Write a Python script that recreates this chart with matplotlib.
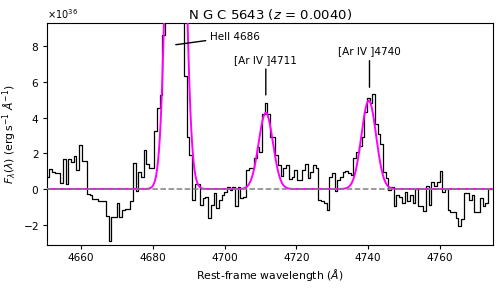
import numpy as np
import matplotlib
matplotlib.use("Agg")
import matplotlib.pyplot as plt

# rest-frame spectrum around HeII 4686, units of 1e36 erg/s/A
flux = [
    0.69, 1.1, 0.96, 0.87, 0.87, 0.31, 1.67, 0.26, 1.67, 1.54,
    1.83, 1.06, 2.46, 1.57, 1.57, -0.3, -0.35, -0.55, -0.55, -0.65,
    -0.7, -0.7, -1.5, -2.9, -1.6, -1.55, -0.8, -1.6, -1.2, -1.15,
    -1.15, -0.7, 1.48, -0.1, 0.96, 0.69, 2.17, 1.43, 1.15, 1.15,
    3.28, 4.57, 5.3, 8.65, 16, 27, 35, 39, 36, 26,
    12, 6.33, 2.9, 1.9, -0.6, 0.28, 0.28, -0.9, -0.52, -0.43,
    -1.63, -0.9, -0.24, -1.07, -0.6, -0.33, -0.15, 0.13, -0.05, 0.13,
    -0.98, 0.13, -0.52, -0.43, 1.09, 1.15, 1.15, 1.76, 2.35, 2.07,
    4.2, 4.85, 4.2, 2.94, 2.9, 1.9, 1.33, 0.74, 1.15, 1.33,
    0.56, 0.69, 1.09, 0.5, 0.5, 1.09, 1.43, 0.59, 0.96, 1.33,
    1.2, -0.61, -0.7, -0.8, -1.17, 0.69, 0.87, -0.1, 0.5, 0.69,
    0.96, 1.02, 0.9, 0.78, 1.76, 2.07, 2.44, 2.9, 4.3, 5.13,
    4.8, 5.35, 3.65, 3.09, 2.5, 0.96, 0.59, -0.05, 0.13, -0.94,
    -0.33, -0.43, -0.8, -0.15, -0.7, -0.33, -0.8, 0.0, -0.98, -0.94,
    -1.26, 0.17, -0.89, 0.37, 0.17, 0.4, 1.02, -0.15, 0.0, -1.17,
    -1.31, -1.31, -1.63, -2.09, -1.69, -0.24, -0.2, -0.61, -0.33, -1.31,
    -1.31, -0.52, -0.94, -0.8, 0.0, 0.0,
]
wave_start = 4650.8
wave_step = 0.75

# gaussian fit components: HeII 4686, [ArIV] 4711, [ArIV] 4740
fit_centers = [4686.4, 4711.5, 4740.2]
fit_amps = [39.0, 4.27, 4.96]
fit_sigmas = [1.95, 2.0, 2.05]

line_labels = ["HeII 4686", "[Ar IV ]4711", "[Ar IV ]4740"]

scale = 1e36
wave = wave_start + wave_step * np.arange(len(flux))
flux = np.array(flux) * scale

wfit = np.linspace(4650.5, 4774.8, 1500)
model = np.zeros_like(wfit)
for c, a, s in zip(fit_centers, fit_amps, fit_sigmas):
    model += a * np.exp(-0.5 * ((wfit - c) / s) ** 2)
model *= scale

fig = plt.figure(figsize=(5.01, 2.88), dpi=100)
ax = fig.add_axes([0.0938, 0.149, 0.890, 0.770])

ax.step(wave, flux, where="mid", color="k", lw=0.9, zorder=2)
ax.plot(wfit, model, color="magenta", lw=1.4, zorder=3)
ax.axhline(0, color="gray", ls="--", lw=1.1, zorder=4)

ax.set_xlim(4650.5, 4774.8)
ax.set_ylim(-3.15 * scale, 9.3 * scale)
ax.ticklabel_format(axis="y", style="sci", useMathText=True)
ax.yaxis.get_offset_text().set_fontsize(7)
ax.tick_params(labelsize=7.6, length=3, pad=2.5)

ax.set_xlabel(r"Rest-frame wavelength ($\AA$)", fontsize=7.8, labelpad=3)
ax.set_ylabel(r"$F_{\lambda}(\lambda)$ (erg$\,$s$^{-1}$ $\AA^{-1}$)", fontsize=7.8, labelpad=3)
ax.set_title(r"N G C 5643 ($z$ = 0.0040)", fontsize=9.5, pad=3)

arrow = dict(arrowstyle="-", color="k", lw=1.0, shrinkA=1, shrinkB=0)
ax.annotate(line_labels[0], xy=(4686.4, 8.1 * scale), xytext=(4695.9, 8.55 * scale),
            ha="left", va="center", fontsize=7.5, arrowprops=arrow)
ax.annotate(line_labels[1], xy=(4711.5, 5.28 * scale), xytext=(4711.5, 7.25 * scale),
            ha="center", va="center", fontsize=7.5, arrowprops=arrow)
ax.annotate(line_labels[2], xy=(4740.4, 5.71 * scale), xytext=(4740.4, 7.72 * scale),
            ha="center", va="center", fontsize=7.5, arrowprops=arrow)

fig.savefig("out.png", dpi=100)
